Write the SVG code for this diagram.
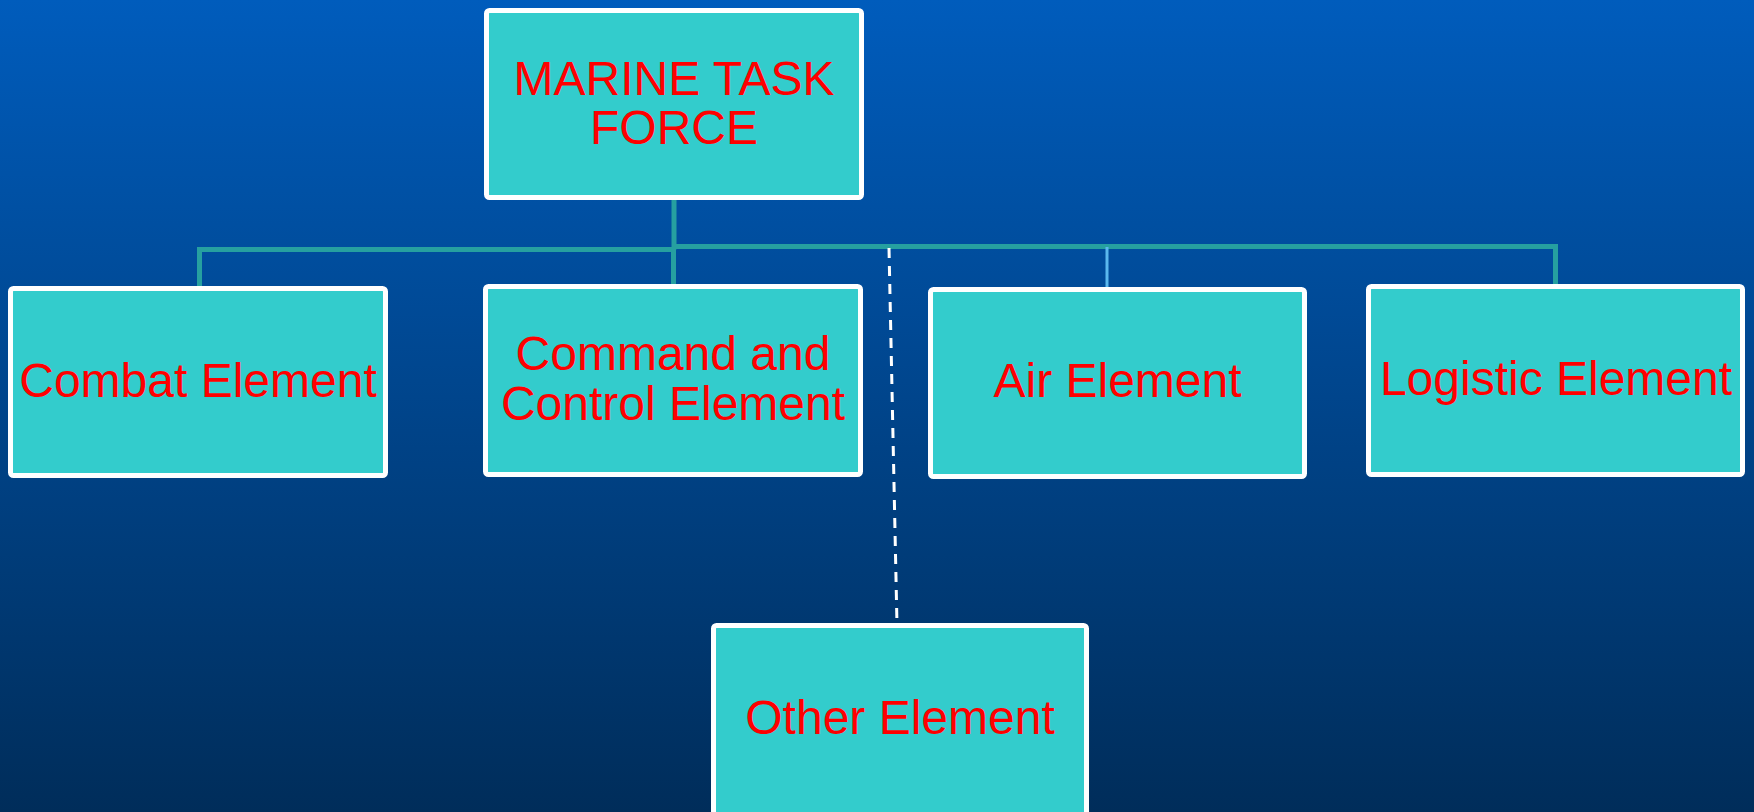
<svg xmlns="http://www.w3.org/2000/svg" width="1754" height="812" viewBox="0 0 1754 812">
<defs>
<linearGradient id="bg" x1="0" y1="0" x2="0" y2="1">
<stop offset="0" stop-color="#005cbc"/>
<stop offset="1" stop-color="#002d5a"/>
</linearGradient>
</defs>
<style>
.box{fill:#33cccc;stroke:#ffffff;stroke-width:5}
.lbl{font-family:"Liberation Sans",Arial,sans-serif;font-size:48px;fill:#ff0000;text-anchor:middle}
.con{stroke:#26a0a0;stroke-width:5;fill:none}
.air{stroke:#5ab8ee;stroke-width:3;fill:none}
.dash{stroke:#ffffff;stroke-width:3;stroke-dasharray:10 8;fill:none}
</style>
<rect width="1754" height="812" fill="url(#bg)"/>
<g id="connectors">
<path class="con" d="M674 198 V249.5 M199.5 290 V249.5 H674 M673.5 249 V288"/>
<path class="con" d="M674 246.5 H1555.5 V288"/>
<path class="air" d="M1107 247 V290"/>
<path class="dash" d="M889 248 L897 625"/>
</g>
<g id="mtf">
<rect class="box" x="486.5" y="10.5" width="375" height="187" rx="3"/>
<text class="lbl" x="674" y="95">MARINE TASK</text>
<text class="lbl" x="674" y="144">FORCE</text>
</g>
<g id="combat">
<rect class="box" x="10.5" y="288.5" width="375" height="187" rx="3"/>
<text class="lbl" x="198" y="397">Combat Element</text>
</g>
<g id="command">
<rect class="box" x="485.5" y="286.5" width="375" height="188" rx="3"/>
<text class="lbl" x="673" y="370">Command and</text>
<text class="lbl" x="673" y="420">Control Element</text>
</g>
<g id="air">
<rect class="box" x="930.5" y="289.5" width="374" height="187" rx="3"/>
<text class="lbl" x="1117.5" y="397">Air Element</text>
</g>
<g id="logistic">
<rect class="box" x="1368.5" y="286.5" width="374" height="188" rx="3"/>
<text class="lbl" x="1556" y="395">Logistic Element</text>
</g>
<g id="other">
<rect class="box" x="713.5" y="625.5" width="373" height="192" rx="3"/>
<text class="lbl" x="900" y="734">Other Element</text>
</g>
</svg>
